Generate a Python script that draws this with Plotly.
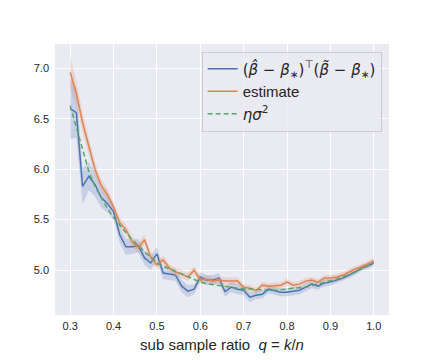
import numpy as np
import plotly.graph_objects as go

# sub sample ratio q (50 evenly spaced points from 0.3 to 1.0)
q = np.round(np.linspace(0.3, 1.0, 50), 4)

# (beta_hat - beta*)^T (beta_tilde - beta*)
inner = [6.60, 6.56, 5.83, 5.93, 5.85, 5.72, 5.66, 5.58, 5.35, 5.23,
         5.23, 5.24, 5.12, 5.07, 5.16, 4.97, 4.96, 4.95, 4.84, 4.79,
         4.81, 4.93, 4.90, 4.90, 4.92, 4.785, 4.83, 4.81, 4.80, 4.73,
         4.75, 4.76, 4.81, 4.795, 4.78, 4.78, 4.79, 4.80, 4.83, 4.86,
         4.84, 4.87, 4.88, 4.90, 4.92, 4.95, 4.98, 5.02, 5.04, 5.07]
inner_err = [0.30, 0.25, 0.18, 0.14, 0.12, 0.10, 0.09, 0.08, 0.08, 0.08,
             0.07, 0.07, 0.07, 0.07, 0.07, 0.06, 0.06, 0.06, 0.06, 0.06,
             0.05, 0.05, 0.05, 0.05, 0.05, 0.05, 0.05, 0.05, 0.05, 0.05,
             0.04, 0.04, 0.04, 0.04, 0.04, 0.04, 0.04, 0.04, 0.04, 0.04,
             0.035, 0.035, 0.035, 0.03, 0.03, 0.03, 0.03, 0.03, 0.03, 0.03]

# estimate
estimate = [6.96, 6.75, 6.46, 6.22, 6.00, 5.84, 5.75, 5.62, 5.47, 5.40,
            5.28, 5.22, 5.30, 5.13, 5.05, 5.10, 5.02, 4.98, 4.96, 4.93,
            5.00, 4.90, 4.91, 4.89, 4.90, 4.89, 4.89, 4.89, 4.83, 4.82,
            4.795, 4.85, 4.84, 4.845, 4.85, 4.88, 4.85, 4.86, 4.89, 4.90,
            4.88, 4.92, 4.92, 4.93, 4.95, 4.98, 5.01, 5.03, 5.06, 5.09]
estimate_err = [0.16, 0.12, 0.10, 0.08, 0.07, 0.06, 0.06, 0.05, 0.05, 0.05,
                0.05, 0.05, 0.05, 0.05, 0.04, 0.04, 0.04, 0.04, 0.04, 0.04,
                0.04, 0.035, 0.035, 0.035, 0.035, 0.035, 0.035, 0.035, 0.03, 0.03,
                0.03, 0.03, 0.03, 0.03, 0.03, 0.03, 0.03, 0.03, 0.03, 0.03,
                0.03, 0.03, 0.03, 0.03, 0.03, 0.03, 0.03, 0.03, 0.03, 0.03]

# eta * sigma^2 (theory)
theory = [6.63, 6.42, 6.19, 5.98, 5.83, 5.72, 5.61, 5.52, 5.44, 5.37,
          5.30, 5.24, 5.18, 5.13, 5.07, 5.04, 5.01, 4.985, 4.96, 4.935,
          4.91, 4.88, 4.865, 4.855, 4.845, 4.835, 4.825, 4.82, 4.815, 4.81,
          4.805, 4.80, 4.80, 4.80, 4.805, 4.81, 4.815, 4.82, 4.83, 4.845,
          4.86, 4.875, 4.89, 4.91, 4.93, 4.955, 4.98, 5.01, 5.04, 5.07]

x_ticks = [0.3, 0.4, 0.5, 0.6, 0.7, 0.8, 0.9, 1.0]
y_ticks = [5.0, 5.5, 6.0, 6.5, 7.0]

BLUE = "#4c72b0"
ORANGE = "#dd8452"
GREEN = "#55a868"
MATH = '<span style="font-family:DejaVu Sans">{}</span>'

fig = go.Figure()


def add_band(y, err, rgba):
    y = np.array(y)
    e = np.array(err)
    fig.add_trace(go.Scatter(x=q, y=y - e, mode="lines", line=dict(width=0),
                             showlegend=False, hoverinfo="skip"))
    fig.add_trace(go.Scatter(x=q, y=y + e, mode="lines", line=dict(width=0),
                             fill="tonexty", fillcolor=rgba,
                             showlegend=False, hoverinfo="skip"))


add_band(inner, inner_err, "rgba(76,114,176,0.22)")
fig.add_trace(go.Scatter(
    x=q, y=inner, mode="lines", line=dict(color=BLUE, width=1.5),
    name=MATH.format("(<i>β̂</i> − <i>β</i><sub>∗</sub>)<sup>⊤</sup>(<i>β̃</i> − <i>β</i><sub>∗</sub>)")))

add_band(estimate, estimate_err, "rgba(221,132,82,0.22)")
fig.add_trace(go.Scatter(
    x=q, y=estimate, mode="lines", line=dict(color=ORANGE, width=1.5),
    name="estimate"))

fig.add_trace(go.Scatter(
    x=q, y=theory, mode="lines",
    line=dict(color=GREEN, width=1.5, dash="5px,3px"),
    name=MATH.format("<i>ησ</i><sup>2</sup>")))

fig.update_layout(
    width=432, height=360,
    margin=dict(l=55, r=43, t=44, b=45, autoexpand=False),
    paper_bgcolor="white",
    plot_bgcolor="#eaeaf2",
    font=dict(family="Liberation Sans, Arial, sans-serif", color="#262626"),
    legend=dict(
        x=0.978, y=0.972, xanchor="right", yanchor="top",
        traceorder="normal",
        bgcolor="rgba(234,234,242,0.8)", bordercolor="#cccccc", borderwidth=1,
        font=dict(size=15, color="#262626"),
        tracegroupgap=0,
    ),
    xaxis=dict(
        range=[0.265, 1.035], tickvals=x_ticks, tickformat=".1f",
        showgrid=True, gridcolor="white", gridwidth=1, zeroline=False,
        showline=False, ticks="", tickfont=dict(size=11, color="#262626"),
        ticklabelstandoff=3,
        automargin=False,
        title=dict(text="sub sample ratio  <i>q</i> = <i>k</i>/<i>n</i>",
                   font=dict(size=15, color="#262626"), standoff=8),
    ),
    yaxis=dict(
        range=[4.554, 7.241], tickvals=y_ticks, tickformat=".1f",
        showgrid=True, gridcolor="white", gridwidth=1, zeroline=False,
        showline=False, ticks="", tickfont=dict(size=11, color="#262626"),
        ticklabelstandoff=5,
        automargin=False,
    ),
)

fig.write_html("out.html", config={"displayModeBar": False},
               post_script="document.body.style.margin='0px';")
